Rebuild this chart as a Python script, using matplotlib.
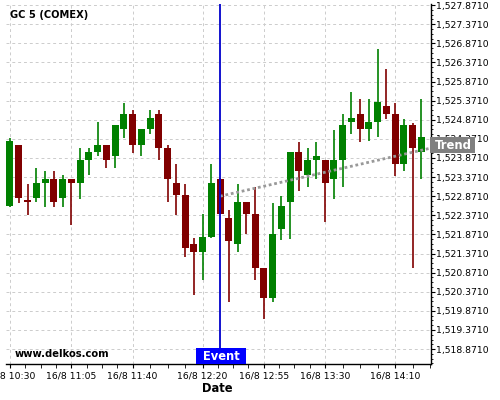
import matplotlib
matplotlib.use("Agg")
import matplotlib.pyplot as plt
import matplotlib.transforms as mtransforms
from matplotlib.patches import Rectangle
from matplotlib.ticker import FixedLocator, FuncFormatter, MultipleLocator
import numpy as np

# ---------------- data ----------------
start_hour, start_min, step_min = 10, 30, 5
opens = [1522.62, 1524.20, 1522.75, 1522.83, 1523.21, 1523.32, 1522.83, 1523.32,
         1523.22, 1523.82, 1524.02, 1524.20, 1523.92, 1524.63, 1525.01, 1524.21,
         1524.63, 1525.01, 1524.12, 1523.21, 1522.90, 1521.61, 1521.40, 1521.80,
         1523.32, 1522.30, 1521.62, 1522.71, 1522.40, 1520.98, 1520.21, 1522.02,
         1522.72, 1524.02, 1523.43, 1523.81, 1523.81, 1523.32, 1523.81, 1524.81,
         1525.01, 1524.63, 1524.81, 1525.22, 1525.01, 1523.71, 1524.73, 1524.03]
highs = [1524.40, 1524.21, 1523.20, 1523.60, 1523.52, 1523.52, 1523.42, 1523.33,
         1524.12, 1524.12, 1524.80, 1524.21, 1524.74, 1525.32, 1525.12, 1524.63,
         1525.12, 1525.12, 1524.20, 1523.72, 1523.20, 1521.79, 1522.40, 1523.72,
         1523.35, 1522.50, 1523.20, 1522.72, 1523.12, 1520.99, 1522.69, 1522.88,
         1524.03, 1524.29, 1524.12, 1524.29, 1523.82, 1524.61, 1525.01, 1525.60,
         1525.41, 1525.41, 1526.71, 1526.21, 1525.32, 1524.90, 1524.79, 1525.41]
lows = [1522.59, 1522.70, 1522.39, 1522.71, 1522.60, 1522.60, 1522.60, 1522.11,
        1522.81, 1523.42, 1523.92, 1523.60, 1523.60, 1524.39, 1524.01, 1523.91,
        1524.51, 1523.81, 1522.71, 1522.39, 1521.28, 1520.29, 1520.68, 1521.78,
        1522.40, 1520.09, 1521.40, 1521.89, 1520.69, 1519.67, 1520.09, 1521.73,
        1521.74, 1523.00, 1523.10, 1523.31, 1522.20, 1522.81, 1523.10, 1524.51,
        1524.30, 1524.32, 1524.41, 1524.90, 1523.41, 1523.52, 1520.98, 1523.31]
closes = [1524.31, 1522.83, 1522.72, 1523.21, 1523.32, 1522.72, 1523.32, 1523.22,
          1523.81, 1524.02, 1524.20, 1523.82, 1524.73, 1525.01, 1524.21, 1524.62,
          1524.91, 1524.13, 1523.32, 1522.90, 1521.52, 1521.40, 1521.80, 1523.22,
          1522.41, 1521.70, 1522.71, 1522.41, 1520.99, 1520.21, 1521.89, 1522.61,
          1524.02, 1523.53, 1523.81, 1523.92, 1523.22, 1523.81, 1524.73, 1524.91,
          1524.63, 1524.80, 1525.33, 1525.02, 1523.71, 1524.73, 1524.13, 1524.41]
major_tick_idx = [0, 7, 14, 22, 29, 36, 44]
event_idx = 24
trend_x = [24, 48.1]
trend_y = [1522.87, 1524.13]
y_ticks = [1518.871 + 0.5 * k for k in range(19)]
title_text = "GC 5 (COMEX)"
site_text = "www.delkos.com"

# ---------------- derived ----------------
n = len(opens)
idx = np.arange(n)
def tlabel(i):
    m = start_hour * 60 + start_min + step_min * i
    return f"16/8 {m // 60}:{m % 60:02d}"

GREEN = "#008000"
RED = "#800000"

W, H = 500, 400
fig = plt.figure(figsize=(5, 4), dpi=100)
L, R, T, B = 6, 431, 4, 364
ax = fig.add_axes([L / W, 1 - B / H, (R - L) / W, (B - T) / H])

o = np.array(opens); c = np.array(closes)
h = np.array(highs); l = np.array(lows)
colors = [GREEN if cc >= oo else RED for oo, cc in zip(o, c)]
ax.vlines(idx, l, h, colors=colors, linewidth=1.2, zorder=3)
body_bottom = np.minimum(o, c)
body_h = np.maximum(np.abs(c - o), 0.04)
ax.bar(idx, body_h, bottom=body_bottom, width=0.8, color=colors,
       edgecolor="none", zorder=4)

# trend
ax.plot(trend_x, trend_y, color="#999999", lw=2.0, linestyle=(0, (1, 1)),
        zorder=5, solid_capstyle="butt", dash_capstyle="butt")

# event line
ax.axvline(event_idx, color="#0000cc", lw=1.3, zorder=6)

ax.set_xlim(-0.457, 48.11)
ax.set_ylim(1518.48, 1527.90)

# spines
for s in ["top", "left"]:
    ax.spines[s].set_visible(False)
ax.spines["bottom"].set_linewidth(1.0)
ax.spines["right"].set_linewidth(1.0)

# x ticks
ax.xaxis.set_major_locator(FixedLocator(major_tick_idx))
ax.set_xticklabels([tlabel(i) for i in major_tick_idx])
minor = []
for a, b in zip(major_tick_idx[:-1], major_tick_idx[1:]):
    for k in range(1, 4):
        minor.append(a + (b - a) * k / 4)
minor += [46, 48]
ax.xaxis.set_minor_locator(FixedLocator(minor))
ax.tick_params(axis="x", which="major", length=3, width=0.8, pad=2.5,
               labelsize=6.7, direction="out")
ax.tick_params(axis="x", which="minor", length=3, width=0.6, direction="out")

# y ticks
ax.yaxis.tick_right()
ax.yaxis.set_major_locator(FixedLocator(y_ticks))
ax.yaxis.set_minor_locator(MultipleLocator(0.125, offset=0.871))
ax.yaxis.set_major_formatter(FuncFormatter(lambda v, p: f"{v:,.4f}"))
ax.tick_params(axis="y", which="major", length=3, width=0.8, pad=0.6,
               labelsize=6.7, direction="out")
ax.tick_params(axis="y", which="minor", length=1.5, width=0.6, direction="out")

ax.grid(True, which="major", color="#cccccc", linestyle=(0, (3, 3)), lw=0.7)
ax.set_axisbelow(True)

# texts
fig.text(10 / W, 1 - 15 / H, title_text, fontsize=7.1, fontweight="bold",
         ha="left", va="center")
fig.text(15 / W, 1 - 354 / H, site_text, fontsize=7.2, fontweight="bold",
         ha="left", va="center", zorder=10)
fig.text(217 / W, 1 - 389 / H, "Date", fontsize=8.3, fontweight="bold",
         ha="center", va="center")

# Event label box
ev_box = Rectangle((196 / W, 1 - 364 / H), 50 / W, 16 / H, transform=fig.transFigure,
                   facecolor="#0000ff", edgecolor="none", zorder=20)
fig.patches.append(ev_box)
fig.text(221 / W, 1 - 356 / H, "Event", fontsize=8.3, fontweight="bold",
         color="white", ha="center", va="center", zorder=21)

# Trend label box
tr_box = Rectangle((430 / W, 1 - 153 / H), 45 / W, 16 / H, transform=fig.transFigure,
                   facecolor="#808080", edgecolor="none", zorder=20)
fig.patches.append(tr_box)
fig.text(453 / W, 1 - 145.5 / H, "Trend", fontsize=8.4, fontweight="bold",
         color="white", ha="center", va="center", zorder=21)

fig.savefig("out.png", dpi=100)
